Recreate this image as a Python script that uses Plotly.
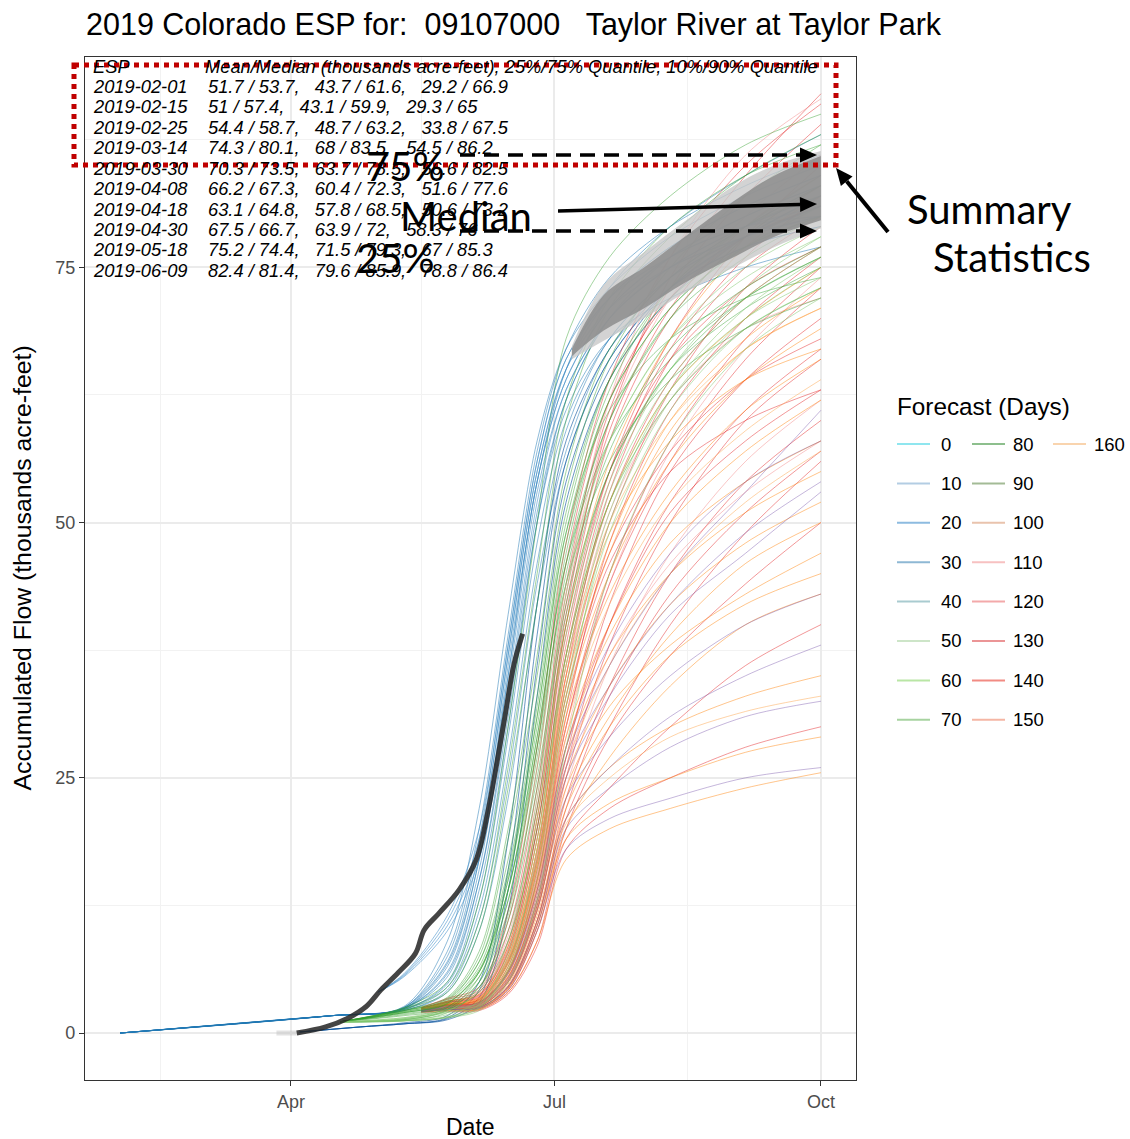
import math
import plotly.graph_objects as go

# ---------------- data ----------------
GRID_FEB = ["2019-02-01", "2019-04-15", "2019-05-10", "2019-05-25", "2019-06-05", "2019-06-15",
            "2019-06-25", "2019-07-05", "2019-07-20", "2019-08-10", "2019-09-05", "2019-10-01"]
GRID_OBS = ["2019-04-04", "2019-04-25", "2019-05-10", "2019-05-25", "2019-06-05", "2019-06-15",
            "2019-06-25", "2019-07-05", "2019-07-20", "2019-08-10", "2019-09-05", "2019-10-01"]
GRID_MAY = ["2019-05-01", "2019-05-10", "2019-05-25", "2019-06-05", "2019-06-15",
            "2019-06-25", "2019-07-05", "2019-07-20", "2019-08-10", "2019-09-05", "2019-10-01"]
GRID_APR = ["2019-04-18", "2019-05-10", "2019-05-25", "2019-06-05", "2019-06-15",
            "2019-06-25", "2019-07-05", "2019-07-20", "2019-08-10", "2019-09-05", "2019-10-01"]
GRID_LATE = ["2019-05-16", "2019-05-25", "2019-06-05", "2019-06-15", "2019-06-25", "2019-07-05",
             "2019-07-20", "2019-08-10", "2019-09-05", "2019-10-01"]

BLUE_FEB = [
    [0, 1.7, 2.6, 9, 22, 41, 58, 67, 73, 78, 82, 85],
    [0, 1.7, 2.5, 8, 20, 39, 57, 67, 74, 79, 83, 86],
    [0, 1.7, 2.5, 7, 18, 37, 55, 65, 72, 77, 81, 84],
    [0, 1.7, 2.4, 6.5, 17, 35, 54, 64, 71, 76, 80, 83],
    [0, 1.7, 2.4, 6, 16, 34, 53, 63, 70, 75, 79, 82],
    [0, 1.7, 2.4, 5.5, 15, 32, 51, 62, 70, 75, 78, 81],
    [0, 1.7, 2.3, 5, 14, 30, 50, 62, 70, 76, 80, 83],
    [0, 1.7, 2.3, 4.8, 13, 29, 48, 60, 68, 74, 78, 80],
    [0, 1.7, 2.3, 4.5, 12, 27, 46, 59, 68, 74, 78, 81],
    [0, 1.7, 2.2, 4.2, 11, 25, 44, 57, 67, 73, 77, 79],
    [0, 1.7, 2.5, 7.5, 19, 38, 56, 66, 72, 76, 79, 80],
    [0, 1.7, 2.4, 6.8, 17, 36, 54, 65, 73, 79, 84, 88],
    [0, 1.7, 2.4, 5.8, 15, 31, 50, 61, 68, 72, 75, 77],
    [0, 1.7, 2.2, 4, 10, 23, 42, 56, 66, 73, 78, 82],
]
BLUE_OBS = [
    [0.1, 0.6, 0.9, 1.4, 3.5, 14, 36, 54, 65, 73, 78, 81],
    [0.1, 0.6, 0.9, 1.5, 4.2, 16, 39, 56, 66, 73, 77, 79],
    [0.1, 0.6, 1.0, 1.7, 5, 19, 42, 58, 67, 74, 79, 83],
    [0.1, 0.6, 0.9, 1.3, 3, 12, 33, 52, 64, 72, 78, 82],
]
BLUE_MAY = [
    [4, 5.6, 10.5, 18, 35, 54, 64, 71, 76, 79, 81],
    [4, 5.8, 11.5, 20, 38, 56, 66, 72, 77, 81, 84],
    [4, 5.5, 10, 17, 33, 52, 63, 70, 75, 79, 82],
    [4, 5.7, 11, 19, 37, 55, 65, 71, 75, 78, 80],
]
GREEN_APR = [
    [1.1, 2.3, 3.5, 8, 20, 37, 55, 67, 74, 79, 83],
    [1.1, 2.2, 3.2, 7, 17, 33, 51, 64, 72, 77, 80],
    [1.1, 2.1, 3.0, 6, 15, 30, 48, 62, 71, 77, 81],
    [1.1, 2.0, 2.8, 5.5, 13, 27, 45, 60, 70, 76, 80],
    [1.1, 1.9, 2.6, 5, 12, 25, 42, 57, 67, 73, 77],
    [1.1, 2.2, 3.4, 7.5, 19, 35, 53, 66, 75, 82, 87],
    [1.1, 2.4, 4, 10, 24, 42, 60, 71, 78, 84, 88],
    [1.1, 2.0, 2.9, 6, 14, 28, 44, 56, 64, 69, 72],
    [1.1, 1.8, 2.5, 4.5, 10, 22, 40, 55, 65, 71, 75],
    [1.1, 1.7, 2.3, 4, 9, 20, 37, 52, 62, 69, 73],
    [1.1, 2.4, 4.5, 11, 26, 45, 62, 72, 79, 84, 87],
    [1.1, 2.2, 3.3, 7, 16, 32, 50, 64, 73, 79, 82],
    [1.1, 1.3, 2.2, 5, 13, 28, 47, 62, 71, 77, 80],
    [1.1, 1.4, 2.5, 6, 15, 31, 49, 63, 73, 79, 84],
    [1.1, 1.2, 2.0, 4.5, 11, 24, 41, 55, 65, 72, 76],
    [1.1, 1.3, 2.3, 5.5, 14, 29, 46, 60, 70, 78, 83],
    [1.1, 2.5, 5, 13, 30, 50, 68, 76, 82, 87, 90],
    [1.1, 2.1, 3.1, 6.5, 15.5, 31, 49, 61, 68, 72, 74],
    [1.1, 2.0, 2.9, 6.2, 14, 29, 46, 58, 66, 72, 76],
]
LGREEN_APR = [
    [1.1, 1.2, 1.6, 2.8, 8, 21, 39, 54, 65, 73, 78],
    [1.1, 1.3, 1.8, 3.2, 9, 23, 43, 58, 68, 75, 79],
    [1.1, 1.5, 2.2, 4.2, 11.5, 26, 44, 58, 68, 74, 78],
    [1.1, 1.2, 1.5, 2.5, 6.5, 18, 37, 53, 64, 72, 77],
    [1.1, 1.2, 1.5, 2.2, 5, 13, 28, 45, 58, 67, 72],
    [1.1, 1.2, 1.6, 2.4, 6, 15, 32, 50, 62, 70, 75],
    [1.1, 1.4, 2.1, 2.8, 7, 17, 34, 51, 63, 71, 76],
    [1.1, 1.5, 2.3, 3.0, 7.5, 19, 36, 52, 63, 70, 74],
    [1.1, 1.3, 2.0, 2.6, 6.2, 16, 33, 49, 61, 69, 73],
]
RED_LATE = [
    [2.4, 3.0, 3.5, 8, 20, 40, 58, 70, 78, 83],
    [2.3, 2.8, 3.2, 7, 17, 35, 53, 66, 75, 80],
    [2.3, 2.8, 3.0, 6, 15, 31, 48, 61, 70, 76],
    [2.4, 3.1, 4, 10, 24, 44, 61, 73, 82, 89],
    [2.4, 3.0, 3.6, 8.5, 21, 41, 60, 74, 84, 92],
    [2.2, 2.5, 2.8, 5.5, 13, 27, 42, 55, 64, 70],
    [2.2, 2.4, 2.6, 5, 12, 25, 38, 50, 60, 66],
    [2.2, 2.6, 2.9, 6, 14, 28, 40, 51, 58, 63],
    [2.1, 2.3, 2.5, 4.5, 11, 22, 33, 43, 51, 57],
    [2.1, 2.3, 2.4, 4.2, 10, 20, 29, 37, 44, 50],
    [2.1, 2.2, 2.3, 4, 9, 19, 24, 30, 36, 40],
    [2.0, 2.1, 2.2, 3.8, 8.5, 18, 22, 25, 28, 30],
    [2.3, 2.8, 3.3, 7.5, 18, 36, 52, 64, 72, 77],
    [2.3, 2.9, 3.4, 7.8, 19, 38, 55, 68, 78, 85],
    [2.2, 2.5, 2.7, 5.2, 12.5, 26, 40, 52, 61, 67],
    [2.3, 2.7, 3.0, 6.5, 16, 33, 47, 57, 64, 68],
    [2.1, 2.3, 2.4, 4.4, 10.5, 21, 30, 40, 49, 56],
    [2.4, 3.1, 3.8, 9, 22, 42, 59, 71, 79, 84],
    [2.5, 3.3, 4.2, 11, 26, 46, 62, 72, 78, 81],
    [2.2, 2.6, 2.9, 6, 15, 30, 44, 56, 66, 73],
    [2.1, 2.3, 2.5, 4.6, 11, 23, 34, 45, 54, 60],
    [2.3, 2.7, 3.1, 6.8, 16.5, 34, 50, 63, 73, 79],
    [2.5, 3.4, 4.5, 12, 28, 48, 64, 76, 85, 91],
    [2.3, 2.7, 3.0, 6.2, 15.5, 32, 46, 55, 60, 63],
    [2.4, 3.0, 3.7, 8.2, 20, 39, 55, 66, 73, 77],
    [2.2, 2.6, 2.9, 5.8, 14.5, 30, 45, 58, 68, 75],
    [2.3, 2.8, 3.3, 7.2, 17.5, 37, 54, 67, 76, 82],
]
PINK_LATE = [
    [2.4, 3.0, 3.7, 8.8, 22, 43, 62, 76, 86, 91.5],
    [2.2, 2.5, 2.8, 5.8, 14, 29, 44, 57, 67, 74],
    [2.2, 2.4, 2.6, 5, 12, 24, 36, 47, 56, 62],
    [2.4, 3.1, 4.0, 9.5, 23, 43, 60, 72, 80, 86],
    [2.2, 2.5, 2.7, 5.4, 13, 26, 37, 46, 53, 58],
    [2.3, 2.8, 3.2, 7, 17, 35, 51, 62, 69, 72],
]
ORANGE_LATE = [
    [2.1, 2.2, 2.3, 4, 9, 17, 20, 22, 24, 25.5],
    [2.1, 2.3, 2.4, 4.3, 10, 19, 22.5, 25, 27.5, 29],
    [2.1, 2.3, 2.5, 4.6, 11, 21, 26, 30, 33, 35],
    [2.2, 2.4, 2.6, 5, 12, 24, 32, 38, 43, 47],
    [2.2, 2.5, 2.8, 5.6, 13, 27, 37, 45, 51, 55],
    [2.2, 2.6, 2.9, 6, 14, 29, 40, 50, 57, 62],
    [2.3, 2.7, 3.1, 6.5, 16, 32, 45, 56, 64, 69],
    [2.3, 2.8, 3.3, 7, 17, 34, 48, 60, 68, 73],
    [2.2, 2.5, 2.7, 5.3, 12.5, 25, 34, 42, 48, 52],
    [2.2, 2.4, 2.6, 4.8, 11.5, 22, 30, 37, 42, 45],
    [2.4, 2.9, 3.5, 7.8, 19, 37, 52, 63, 70, 75],
    [2.3, 2.7, 3.0, 6.2, 15, 31, 43, 53, 61, 66],
    [2.1, 2.3, 2.4, 4.4, 10.5, 20, 27, 34, 40, 43],
    [2.2, 2.5, 2.8, 5.5, 13.5, 28, 39, 48, 54, 58],
    [2.4, 3.1, 3.8, 8.5, 21, 40, 56, 68, 77, 82],
    [2.3, 2.8, 3.2, 6.8, 16.5, 33, 47, 59, 67, 71],
    [2.3, 2.9, 3.4, 7.3, 18, 35, 49, 58, 64, 67],
    [2.2, 2.4, 2.6, 5.1, 12.2, 23, 31, 39, 46, 50],
]
LORANGE_LATE = [
    [2.1, 2.3, 2.4, 4.5, 10.8, 20.5, 25, 29, 31.5, 33],
    [2.2, 2.5, 2.7, 5.2, 12.8, 26, 36, 45, 52, 57],
    [2.3, 2.9, 3.4, 7.4, 18, 36, 50, 60, 67, 71],
    [2.2, 2.6, 2.9, 5.9, 14.5, 30, 42, 52, 59, 64],
]
PURPLE_LATE = [
    [2.1, 2.3, 2.4, 4.2, 10, 18, 21, 23, 25, 26],
    [2.1, 2.3, 2.5, 4.5, 10.5, 20, 24, 28, 31, 32.5],
    [2.2, 2.4, 2.6, 5, 12, 23, 29, 35, 40, 43],
    [2.2, 2.5, 2.8, 5.4, 13, 26, 34, 42, 49, 54],
    [2.3, 2.7, 3.0, 6, 14, 28, 38, 47, 54, 58],
    [2.2, 2.6, 2.9, 5.8, 13.5, 27, 36, 45, 53, 61],
    [2.1, 2.3, 2.5, 4.6, 11, 21, 26, 31, 35, 38],
    [2.2, 2.5, 2.7, 5.2, 12.5, 25, 33, 41, 47, 53],
]

# latest forecast spread (grey band)
BAND_DATES = ["2019-07-07", "2019-07-18", "2019-08-01", "2019-08-15", "2019-09-01", "2019-09-15",
              "2019-10-01"]
BAND_Q10 = [66, 67.8, 70, 72.5, 75, 77, 78.8]
BAND_Q25 = [66.3, 68.8, 71, 73.5, 76, 78, 79.6]
BAND_Q75 = [67, 72.3, 75, 78, 81.5, 84, 85.9]
BAND_Q90 = [67.3, 73.3, 76.5, 79.5, 83, 85, 86.4]

# observed accumulated flow
OBS_PRE_DATES = ["2019-03-27", "2019-04-03"]
OBS_PRE_VALS = [0, 0]
OBS_DATES = ["2019-04-03", "2019-04-13", "2019-04-21", "2019-04-27", "2019-05-02", "2019-05-08",
             "2019-05-14", "2019-05-17", "2019-05-22", "2019-05-29", "2019-06-04", "2019-06-08",
             "2019-06-11", "2019-06-14", "2019-06-17", "2019-06-20"]
OBS_VALS = [0, 0.6, 1.5, 2.6, 4.2, 5.9, 7.8, 10.1, 11.7, 14, 17, 21.7, 26.3, 31.2, 36.1, 39.1]

# summary statistics table
STAT_DATES = ["2019-02-01", "2019-02-15", "2019-02-25", "2019-03-14", "2019-03-30",
              "2019-04-08", "2019-04-18", "2019-04-30", "2019-05-18", "2019-06-09"]
STAT_MEAN = [51.7, 51, 54.4, 74.3, 70.3, 66.2, 63.1, 67.5, 75.2, 82.4]
STAT_MEDIAN = [53.7, 57.4, 58.7, 80.1, 73.5, 67.3, 64.8, 66.7, 74.4, 81.4]
STAT_Q25 = [43.7, 43.1, 48.7, 68, 63.7, 60.4, 57.8, 63.9, 71.5, 79.6]
STAT_Q75 = [61.6, 59.9, 63.2, 83.5, 78.5, 72.3, 68.5, 72, 79.3, 85.9]
STAT_Q10 = [29.2, 29.3, 33.8, 54.5, 56.6, 51.6, 50.6, 58.3, 67, 78.8]
STAT_Q90 = [66.9, 65, 67.5, 86.2, 82.5, 77.6, 73.2, 76, 85.3, 86.4]

LEGEND_DAYS = [0, 10, 20, 30, 40, 50, 60, 70, 80, 90, 100, 110, 120, 130, 140, 150, 160]
LEGEND_COLORS = ["#8fe6ef", "#b3cde3", "#8dbbe0", "#8eb8d4", "#a9cbd0", "#cde5c8", "#b9e6a5", "#a7d3a0",
                 "#8dbf8d", "#a3bb96", "#e9c3ad", "#f7c1c1", "#f3a9aa", "#eb9596", "#f28b83", "#f5b6a4",
                 "#f9d4ae"]

X_TICKS = ["2019-04-01", "2019-07-01", "2019-10-01"]
X_TICK_TEXT = ["Apr", "Jul", "Oct"]
X_MINOR = ["2019-02-15", "2019-05-16", "2019-08-16"]
Y_TICKS = [0, 25, 50, 75]
Y_MINOR = [12.5, 37.5, 62.5, 87.5]

# ---------------- figure ----------------
W, H = 1130, 1139
L, R, T, B = 85, 856, 57, 1080


def px(x):
    return (x - L) / (R - L)


def py(y):
    return (B - y) / (B - T)


fig = go.Figure()


def add_group(grid, rows, color, width=1.0):
    for r in rows:
        fig.add_trace(go.Scatter(x=grid, y=r, mode="lines",
                                 line=dict(color=color, width=width, shape="spline", smoothing=0.9),
                                 hoverinfo="skip", showlegend=False))


add_group(GRID_FEB, BLUE_FEB, "rgba(31,119,180,0.5)")
add_group(GRID_OBS, BLUE_OBS, "rgba(8,81,156,0.6)")
add_group(GRID_LATE, RED_LATE, "rgba(227,26,28,0.45)")
add_group(GRID_LATE, PINK_LATE, "rgba(240,120,120,0.42)")
add_group(GRID_LATE, ORANGE_LATE, "rgba(255,127,0,0.45)")
add_group(GRID_LATE, LORANGE_LATE, "rgba(253,174,97,0.55)")
add_group(GRID_LATE, PURPLE_LATE, "rgba(117,80,170,0.42)")
add_group(GRID_APR, GREEN_APR, "rgba(51,160,44,0.45)")
add_group(GRID_APR, LGREEN_APR, "rgba(130,200,110,0.5)")
add_group(GRID_MAY, BLUE_MAY, "rgba(60,140,200,0.55)")

# grey band
fig.add_trace(go.Scatter(x=BAND_DATES, y=BAND_Q10, mode="lines", line=dict(width=0, shape="spline"),
                         hoverinfo="skip", showlegend=False))
fig.add_trace(go.Scatter(x=BAND_DATES, y=BAND_Q90, mode="lines", line=dict(width=0, shape="spline"),
                         fill="tonexty", fillcolor="rgba(200,200,200,0.8)", hoverinfo="skip", showlegend=False))
fig.add_trace(go.Scatter(x=BAND_DATES, y=BAND_Q25, mode="lines", line=dict(width=0, shape="spline"),
                         hoverinfo="skip", showlegend=False))
fig.add_trace(go.Scatter(x=BAND_DATES, y=BAND_Q75, mode="lines", line=dict(width=0, shape="spline"),
                         fill="tonexty", fillcolor="rgba(140,140,140,0.85)", hoverinfo="skip", showlegend=False))

fig.add_trace(go.Scatter(x=OBS_PRE_DATES, y=OBS_PRE_VALS, mode="lines",
                         line=dict(color="rgba(190,190,190,0.45)", width=5), hoverinfo="skip", showlegend=False))
fig.add_trace(go.Scatter(x=OBS_DATES, y=OBS_VALS, mode="lines",
                         line=dict(color="rgba(35,35,35,0.85)", width=5, shape="spline"),
                         hoverinfo="skip", showlegend=False))

BASE_FONT = "Liberation Sans, Arial, Helvetica, sans-serif"
CALLOUT_FONT = "Lato, Carlito, Calibri, sans-serif"

fig.update_layout(
    width=W, height=H,
    margin=dict(l=L, r=W - R, t=T, b=H - B, pad=0),
    paper_bgcolor="white", plot_bgcolor="white", showlegend=False,
    font=dict(family=BASE_FONT, color="#000000"),
)
fig.update_xaxes(
    type="date", range=["2019-01-19 21:36", "2019-10-13 02:24"],
    tickmode="array", tickvals=X_TICKS, ticktext=X_TICK_TEXT,
    showgrid=True, gridcolor="#ebebeb", gridwidth=1.6,
    minor=dict(tickmode="array", tickvals=X_MINOR, showgrid=True, gridcolor="#f2f2f2", gridwidth=0.9, ticks=""),
    ticks="outside", ticklen=5, tickwidth=1.1, tickcolor="#333333",
    tickfont=dict(size=18, color="#4d4d4d", family=BASE_FONT),
    showline=True, linecolor="#333333", linewidth=1.1, mirror=True, zeroline=False,
)
fig.update_yaxes(
    range=[-4.6, 95.6], tickmode="array", tickvals=Y_TICKS,
    showgrid=True, gridcolor="#ebebeb", gridwidth=1.6,
    minor=dict(tickmode="array", tickvals=Y_MINOR, showgrid=True, gridcolor="#f2f2f2", gridwidth=0.9, ticks=""),
    ticks="outside", ticklen=5, tickwidth=1.1, tickcolor="#333333",
    tickfont=dict(size=18, color="#4d4d4d", family=BASE_FONT),
    showline=True, linecolor="#333333", linewidth=1.1, mirror=True, zeroline=False,
)

ann = []
shapes = []
NB = "\u00a0"

# title and axis titles
ann.append(dict(text="2019 Colorado ESP for:" + NB * 2 + "09107000" + NB * 3 + "Taylor River at Taylor Park",
                x=px(84), y=py(24), xref="paper", yref="paper", xanchor="left", yanchor="middle",
                showarrow=False, font=dict(size=30.5, family=BASE_FONT, color="#000")))
ann.append(dict(text="Date", x=px(470.5), y=py(1127), xref="paper", yref="paper", xanchor="center",
                yanchor="middle", showarrow=False, font=dict(size=23, family=BASE_FONT, color="#000")))
ann.append(dict(text="Accumulated Flow (thousands acre-feet)", x=px(22), y=py(568.5), xref="paper",
                yref="paper", xanchor="center", yanchor="middle", textangle=-90, showarrow=False,
                font=dict(size=24.8, family=BASE_FONT, color="#000")))

# summary table
ROW0 = 66
ROWSTEP = 20.44
TFONT = dict(size=18.3, family=BASE_FONT, color="#000")
ann.append(dict(text="<i>ESP</i>", x=px(91), y=py(ROW0), xref="paper", yref="paper", xanchor="left",
                yanchor="middle", showarrow=False, font=TFONT))
ann.append(dict(text="<i>Mean/Median (thousands acre-feet), 25%/75% Quantile, 10%/90% Quantile</i>",
                x=px(203), y=py(ROW0), xref="paper", yref="paper", xanchor="left", yanchor="middle",
                showarrow=False, font=TFONT))
for i, d in enumerate(STAT_DATES):
    yy = ROW0 + ROWSTEP * (i + 1)
    s = (f"{STAT_MEAN[i]:g} / {STAT_MEDIAN[i]:g}," + NB * 3 + f"{STAT_Q25[i]:g} / {STAT_Q75[i]:g},"
         + NB * 3 + f"{STAT_Q10[i]:g} / {STAT_Q90[i]:g}")
    ann.append(dict(text=f"<i>{d}</i>", x=px(91), y=py(yy), xref="paper", yref="paper", xanchor="left",
                    yanchor="middle", showarrow=False, font=TFONT))
    ann.append(dict(text=f"<i>{s}</i>", x=px(206), y=py(yy), xref="paper", yref="paper", xanchor="left",
                    yanchor="middle", showarrow=False, font=TFONT))

# legend (manual, column-major like ggplot)
ann.append(dict(text="Forecast (Days)", x=px(895), y=py(406), xref="paper", yref="paper", xanchor="left",
                yanchor="middle", showarrow=False, font=dict(size=24.3, family=BASE_FONT, color="#000")))
COL_LINE_X = [897, 972, 1053]
COL_LABEL_X = [939, 1011, 1092]
for i, (dval, col) in enumerate(zip(LEGEND_DAYS, LEGEND_COLORS)):
    c, r = divmod(i, 8)
    yy = 444 + r * 39.4
    shapes.append(dict(type="line", xref="paper", yref="paper", x0=px(COL_LINE_X[c]), x1=px(COL_LINE_X[c] + 33),
                       y0=py(yy), y1=py(yy), line=dict(color=col, width=2)))
    ann.append(dict(text=str(dval), x=px(COL_LABEL_X[c]), y=py(yy), xref="paper", yref="paper", xanchor="left",
                    yanchor="middle", showarrow=False, font=dict(size=18.5, family=BASE_FONT, color="#000")))

# callouts
for txt, cx, cy in [("75%", 405, 166), ("Median", 466, 216), ("25%", 395, 258),
                    ("Summary", 989, 209), ("Statistics", 1012, 257)]:
    ann.append(dict(text=txt, x=px(cx), y=py(cy), xref="paper", yref="paper", xanchor="center",
                    yanchor="middle", showarrow=False, font=dict(size=40, family=CALLOUT_FONT, color="#000")))

# red dotted box
shapes.append(dict(type="rect", xref="paper", yref="paper", x0=px(74), x1=px(836), y0=py(65), y1=py(165),
                   line=dict(color="#c00000", width=5, dash="dot"), fillcolor="rgba(0,0,0,0)"))


def arrow(x0, y0, x1, y1, dash=None, head=17, half=7.5, width=3.5):
    dx, dy = x1 - x0, y1 - y0
    ln = math.hypot(dx, dy)
    ux, uy = dx / ln, dy / ln
    bx, by = x1 - head * ux, y1 - head * uy
    nx, ny = -uy, ux
    line = dict(color="#000", width=width)
    if dash:
        line["dash"] = dash
    shapes.append(dict(type="line", xref="paper", yref="paper", x0=px(x0), y0=py(y0), x1=px(bx), y1=py(by),
                       line=line))
    p1 = (bx + half * nx, by + half * ny)
    p2 = (bx - half * nx, by - half * ny)
    path = f"M {px(x1)},{py(y1)} L {px(p1[0])},{py(p1[1])} L {px(p2[0])},{py(p2[1])} Z"
    shapes.append(dict(type="path", xref="paper", yref="paper", path=path, fillcolor="#000",
                       line=dict(color="#000", width=0)))


arrow(460, 155, 817, 155, dash="15px,9px")
arrow(558, 211, 817, 204)
arrow(460, 231, 817, 231, dash="15px,9px")
arrow(888, 232, 836, 168, width=4)

fig.update_layout(annotations=ann, shapes=shapes)
fig.write_html("out.html", config={"displayModeBar": False},
               post_script="document.body.style.margin='0';document.body.style.overflow='hidden';")
